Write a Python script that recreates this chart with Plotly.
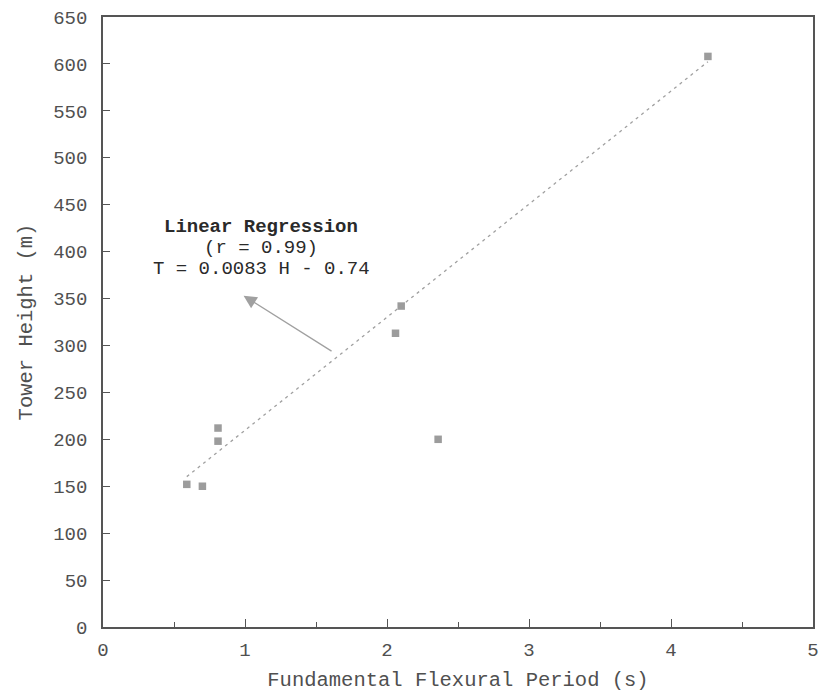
import plotly.graph_objects as go

# Fundamental flexural period (s) vs tower height (m)
period_s = [0.59, 0.70, 0.81, 0.81, 2.06, 2.10, 2.36, 4.26]
height_m = [152, 150, 212, 198, 313, 342, 200, 608]

# Linear regression: T = 0.0083 H - 0.74
slope = 0.0083
intercept = -0.74
fit_T = [min(period_s), max(period_s)]
fit_H = [(t - intercept) / slope for t in fit_T]

x_ticks = [0, 1, 2, 3, 4, 5]
y_ticks = list(range(0, 651, 50))

label_lines = ["<b>Linear Regression</b>", "(r = 0.99)", "T = 0.0083 H - 0.74"]

font_mono = "Liberation Mono, Courier New, monospace"
text_color = "#505050"

fig = go.Figure()
fig.add_trace(go.Scatter(
    x=fit_T, y=fit_H, mode="lines",
    line=dict(color="#a0a0a0", width=1.3, dash="3px,4px"),
    showlegend=False, hoverinfo="skip",
))
fig.add_trace(go.Scatter(
    x=period_s, y=height_m, mode="markers",
    marker=dict(symbol="square", size=7.5, color="#9c9c9c"),
    showlegend=False,
))

# Arrow pointing from the regression line to the label
fig.add_annotation(
    x=0.99, y=353, ax=1.62, ay=293, xref="x", yref="y", axref="x", ayref="y",
    text="", showarrow=True, arrowhead=2, arrowsize=2.0, arrowwidth=1.3,
    arrowcolor="#a0a0a0",
)

# Three-line label, placed line by line for tight spacing
for i, line in enumerate(label_lines):
    fig.add_annotation(
        x=1.116, y=426 - 22.4 * i, xref="x", yref="y", showarrow=False,
        text=line, font=dict(family=font_mono, size=19, color="#2a2a2a"),
        xanchor="center", yanchor="middle",
    )

axis_common = dict(
    showgrid=False, zeroline=False, showline=True, mirror=True,
    linecolor="#555555", linewidth=1.5, ticks="inside", tickcolor="#555555",
    tickfont=dict(family=font_mono, size=19, color=text_color),
    title_font=dict(family=font_mono, size=20.5, color=text_color),
)

fig.update_xaxes(
    range=[0, 5], tickvals=x_ticks, ticklen=8, ticklabelstandoff=4,
    minor=dict(dtick=0.5, ticks="inside", ticklen=5, tickcolor="#555555"),
    title_text="Fundamental Flexural Period (s)", title_standoff=11,
    **axis_common,
)
fig.update_yaxes(
    range=[0, 650], tickvals=y_ticks, ticklen=7, ticklabelstandoff=10,
    title_text="Tower Height (m)", title_standoff=15,
    **axis_common,
)

fig.update_layout(
    width=824, height=693,
    margin=dict(l=103, r=5, t=17, b=66),
    paper_bgcolor="white", plot_bgcolor="white",
)

fig.write_html("out.html")
